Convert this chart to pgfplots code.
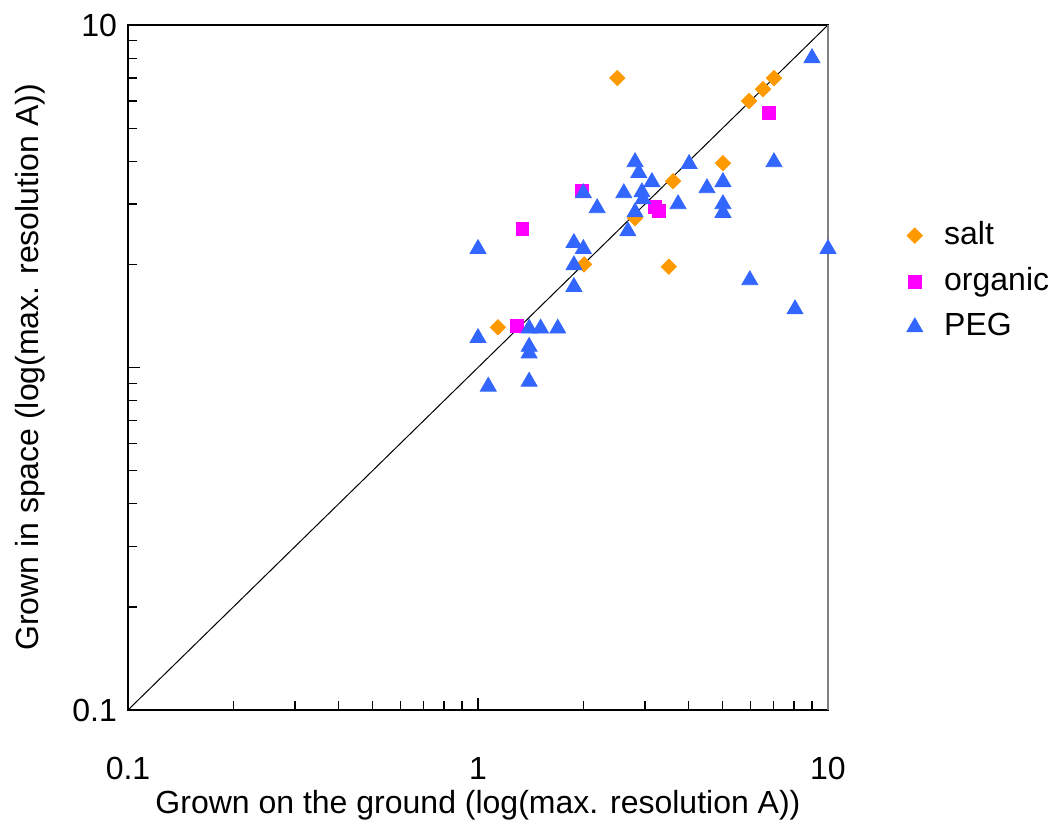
\documentclass[border=0pt]{standalone}
\usepackage{fontspec}
\setmainfont{Liberation Sans}
\usepackage{pgfplots}
\pgfplotsset{compat=1.18}

\definecolor{saltc}{HTML}{FF9900}
\definecolor{orgc}{HTML}{FF00FF}
\definecolor{pegc}{HTML}{3366FF}

\begin{document}
\fontsize{16}{19}\selectfont
\begin{tikzpicture}
\begin{axis}[
  xmode=log, ymode=log,
  xmin=0.1, xmax=10, ymin=0.1, ymax=10,
  width=350pt, height=342.5pt, scale only axis,
  xtick={0.1,1,10}, xticklabels={0.1,1,10},
  ytick={0.1,1,10}, yticklabels={0.1,,10},
  minor xtick={0.2,0.3,0.4,0.5,0.6,0.7,0.8,0.9,2,3,4,5,6,7,8,9},
  minor ytick={0.2,0.3,0.4,0.5,0.6,0.7,0.8,0.9,2,3,4,5,6,7,8,9},
  tick pos=left, tick align=inside,
  major tick length=6pt, minor tick length=4.5pt,
  tick style={black, line width=0.6pt},
  axis line style={black, line width=0.8pt},
  xticklabel style={yshift=-18pt},
  xlabel={Grown on the ground (log(max. resolution A))},
  ylabel={Grown in space (log(max. resolution A))},
  xlabel style={at={([yshift=-47.5pt]axis description cs:0.5,0)}, anchor=center},
  ylabel style={at={([xshift=-49pt]axis description cs:0,0.5)}, anchor=center},
  legend style={at={([xshift=36pt]axis description cs:1,0.626)}, anchor=west,
    draw=none, fill=none, row sep=5pt},
  legend cell align=left,
  legend image code/.code={\draw[#1] plot coordinates {(0pt,0pt)}; \path (-4pt,0pt) (12.5pt,0pt);},
  clip=false
]

% salt
\addplot[only marks, mark=square*, mark size=2.7pt, mark options={rotate=45, saltc, fill=saltc}]
  coordinates {(2.50,7.0)(7.01,7.0)(6.52,6.5)(5.95,6.0)(5.01,3.95)(3.61,3.5)
               (2.81,2.73)(2.01,2.0)(3.51,1.97)(1.14,1.31)};
\addlegendentry{salt}

% organic
\addplot[only marks, mark=square*, mark size=3.2pt, mark options={orgc, fill=orgc}]
  coordinates {(6.78,5.53)(1.98,3.28)(1.34,2.54)(3.20,2.94)(3.29,2.86)(1.29,1.32)};
\addlegendentry{organic}

% PEG
\addplot[only marks, mark=triangle*, mark size=4.6pt, mark options={pegc, fill=pegc}]
  coordinates {(9.0,8.01)(7.01,3.98)(4.01,3.93)(2.81,3.98)(2.88,3.70)(3.14,3.48)
               (2.61,3.23)(2.94,3.25)(2.96,3.10)(2.81,2.84)(2.68,2.50)(2.0,3.23)
               (2.19,2.92)(4.51,3.34)(5.01,3.48)(3.73,3.0)(5.01,3.0)(5.01,2.83)
               (1.88,2.31)(2.0,2.22)(1.88,1.99)(1.88,1.72)(1.0,2.22)(10.0,2.22)
               (5.98,1.80)(8.05,1.48)(1.40,1.30)(1.51,1.30)(1.69,1.30)(1.0,1.22)
               (1.40,1.15)(1.40,1.10)(1.07,0.88)(1.40,0.91)};
\addlegendentry{PEG}

\addplot[black, line width=0.5pt, forget plot] coordinates {(0.1,0.1)(10,10)};

\draw[gray, line width=0.8pt] (rel axis cs:1,0) -- (rel axis cs:1,1);
% page margins as in the reference
\path ([xshift=-64pt,yshift=-60.5pt]rel axis cs:0,0) rectangle ([xshift=117.5pt,yshift=12.5pt]rel axis cs:1,1);
\end{axis}
\end{tikzpicture}
\end{document}
